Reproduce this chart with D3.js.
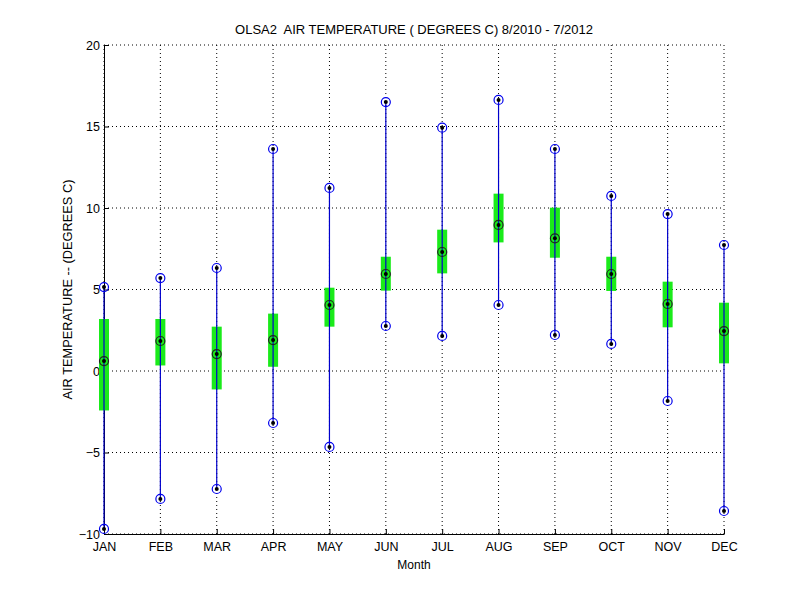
<!DOCTYPE html>
<html>
<head>
<meta charset="utf-8">
<script src="https://cdn.jsdelivr.net/npm/d3@7"></script>
<style>
	body { margin: 0; background: #fff; }
	svg text { font-family: Arial, "Liberation Sans", sans-serif; fill: #000; }
</style>
</head>
<body>
<div id="___box_chart"></div>
<script>
// monthly stats
var months = ["JAN", "FEB", "MAR", "APR", "MAY", "JUN", "JUL", "AUG", "SEP", "OCT", "NOV", "DEC"];
var maxVals = [5.15, 5.70, 6.32, 13.62, 11.23, 16.50, 14.93, 16.63, 13.62, 10.74, 9.63, 7.73];
var minVals = [-9.69, -7.85, -7.24, -3.19, -4.66, 2.76, 2.15, 4.05, 2.21, 1.66, -1.84, -8.59];
var medians = [0.61, 1.84, 1.04, 1.90, 4.05, 5.95, 7.30, 8.96, 8.14, 5.95, 4.11, 2.45];
var boxTop = [3.19, 3.19, 2.72, 3.52, 5.11, 7.01, 8.67, 10.88, 10.02, 7.01, 5.48, 4.19];
var boxBottom = [-2.42, 0.34, -1.13, 0.26, 2.72, 4.93, 5.99, 7.89, 6.95, 4.91, 2.68, 0.47];
var yTicks = [-10, -5, 0, 5, 10, 15, 20];

var data = months.map(function (m, i) {
	return { month: i + 1, max: maxVals[i], min: minVals[i], med: medians[i], q3: boxTop[i], q1: boxBottom[i] };
});

var margin = { top: 45, right: 76, bottom: 66, left: 104 },
	width = 800 - margin.left - margin.right,
	height = 600 - margin.top - margin.bottom;

var svg = d3.select("#___box_chart")
	.append("svg")
	.attr("width", 800)
	.attr("height", 600);

var g = svg.append("g")
	.attr("transform", "translate(" + margin.left + "," + margin.top + ")");

var x = d3.scaleLinear().domain([1, 12]).range([0, width]);
var y = d3.scaleLinear().domain([-10, 20]).range([height, 0]);

// dotted grid
g.append("g").selectAll("line")
	.data(yTicks)
	.enter().append("line")
	.attr("x1", 0).attr("x2", width)
	.attr("y1", function (d) { return y(d); })
	.attr("y2", function (d) { return y(d); })
	.attr("stroke", "#000").attr("stroke-width", 1)
	.attr("stroke-dasharray", "1,3");

g.append("g").selectAll("line")
	.data(d3.range(1, 13))
	.enter().append("line")
	.attr("x1", function (d) { return x(d); })
	.attr("x2", function (d) { return x(d); })
	.attr("y1", 0).attr("y2", height)
	.attr("stroke", "#000").attr("stroke-width", 1)
	.attr("stroke-dasharray", "1,3");

// axes, ticks pointing inward like matlab
var xAxis = g.append("g")
	.attr("transform", "translate(0," + height + ")")
	.call(d3.axisBottom(x).tickValues(d3.range(1, 13)).tickFormat(function (d) { return months[d - 1]; })
		.tickSizeInner(-5).tickSizeOuter(0).tickPadding(6));
var yAxis = g.append("g")
	.call(d3.axisLeft(y).tickValues(yTicks).tickSizeInner(-5).tickSizeOuter(0).tickPadding(4));

[xAxis, yAxis].forEach(function (a) {
	a.selectAll("path, line").attr("stroke", "#000");
	a.selectAll("text").style("font-size", "12.5px");
});
xAxis.selectAll("text").attr("dy", "0.85em");

// boxes
g.append("g").selectAll("rect")
	.data(data)
	.enter().append("rect")
	.attr("x", function (d) { return x(d.month) - 5; })
	.attr("width", 10)
	.attr("y", function (d) { return y(d.q3); })
	.attr("height", function (d) { return y(d.q1) - y(d.q3); })
	.attr("fill", "#1aeb1a");

// whiskers
g.append("g").selectAll("line")
	.data(data)
	.enter().append("line")
	.attr("x1", function (d) { return x(d.month); })
	.attr("x2", function (d) { return x(d.month); })
	.attr("y1", function (d) { return y(d.max); })
	.attr("y2", function (d) { return y(d.min); })
	.attr("stroke", "#0000cc").attr("stroke-width", 1.2);

// markers
var pts = [];
data.forEach(function (d) {
	pts.push({ month: d.month, v: d.max, col: "#0000ee" });
	pts.push({ month: d.month, v: d.min, col: "#0000ee" });
	pts.push({ month: d.month, v: d.med, col: "#222" });
});

var mk = g.append("g").selectAll("g")
	.data(pts)
	.enter().append("g")
	.attr("transform", function (d) { return "translate(" + x(d.month) + "," + y(d.v) + ")"; });
mk.append("circle").attr("r", 4.5).attr("fill", "none")
	.attr("stroke", function (d) { return d.col; }).attr("stroke-width", 1.2);
mk.append("circle").attr("r", 2).attr("fill", "#000");

// labels
svg.append("text")
	.attr("x", margin.left + width / 2).attr("y", 34)
	.attr("text-anchor", "middle").style("font-size", "13px")
	.style("white-space", "pre")
	.text("OLSA2  AIR TEMPERATURE ( DEGREES C) 8/2010 - 7/2012");

svg.append("text")
	.attr("x", margin.left + width / 2).attr("y", 569)
	.attr("text-anchor", "middle").style("font-size", "12px")
	.text("Month");

svg.append("text")
	.attr("transform", "translate(72," + (margin.top + height / 2) + ") rotate(-90)")
	.attr("text-anchor", "middle").style("font-size", "12.8px")
	.text("AIR TEMPERATURE -- (DEGREES C)");
</script>
</body>
</html>
